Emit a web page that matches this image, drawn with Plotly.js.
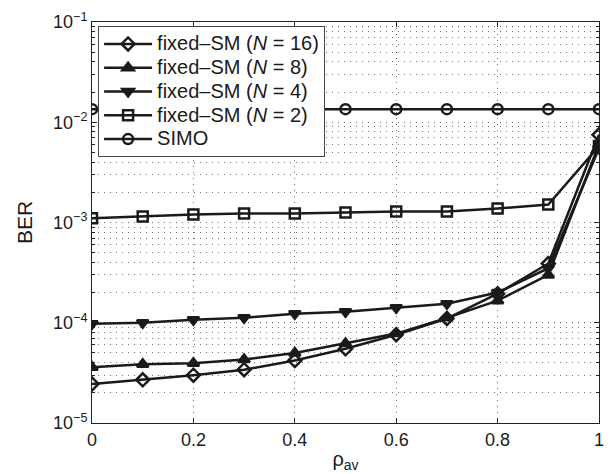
<!DOCTYPE html>
<html>
<head>
<meta charset="utf-8">
<script src="https://cdn.plot.ly/plotly-3.0.1.min.js"></script>
<style>html,body{margin:0;padding:0;background:#fff;}#plot{width:611px;height:474px;}</style>
</head>
<body>
<div id="plot"></div>
<script>
const rho = [0, 0.1, 0.2, 0.3, 0.4, 0.5, 0.6, 0.7, 0.8, 0.9, 1.0];
const berN16 = [2.45e-5, 2.7e-5, 3.0e-5, 3.4e-5, 4.2e-5, 5.5e-5, 7.6e-5, 1.1e-4, 1.95e-4, 3.9e-4, 7.5e-3];
const berN8  = [3.6e-5, 3.85e-5, 3.95e-5, 4.3e-5, 5.0e-5, 6.2e-5, 7.8e-5, 1.12e-4, 1.66e-4, 3.0e-4, 6.0e-3];
const berN4  = [9.8e-5, 1.0e-4, 1.07e-4, 1.12e-4, 1.23e-4, 1.29e-4, 1.41e-4, 1.55e-4, 2.0e-4, 3.5e-4, 5.5e-3];
const berN2  = [1.1e-3, 1.15e-3, 1.2e-3, 1.23e-3, 1.23e-3, 1.26e-3, 1.29e-3, 1.29e-3, 1.38e-3, 1.51e-3, 5.8e-3];
const berSIMO = [1.35e-2, 1.35e-2, 1.35e-2, 1.35e-2, 1.35e-2, 1.35e-2, 1.35e-2, 1.35e-2, 1.35e-2, 1.35e-2, 1.35e-2];
const names = ['fixed–SM (<i>N</i> = 16)', 'fixed–SM (<i>N</i> = 8)', 'fixed–SM (<i>N</i> = 4)', 'fixed–SM (<i>N</i> = 2)', 'SIMO'];
const yTickVals = [1e-5, 1e-4, 1e-3, 1e-2, 1e-1];
const yTickText = ['10<sup>−5</sup>', '10<sup>−4</sup>', '10<sup>−3</sup>', '10<sup>−2</sup>', '10<sup>−1</sup>'];
const yMinorVals = [
  2e-5, 3e-5, 4e-5, 5e-5, 6e-5, 7e-5, 8e-5, 9e-5,
  2e-4, 3e-4, 4e-4, 5e-4, 6e-4, 7e-4, 8e-4, 9e-4,
  2e-3, 3e-3, 4e-3, 5e-3, 6e-3, 7e-3, 8e-3, 9e-3,
  2e-2, 3e-2, 4e-2, 5e-2, 6e-2, 7e-2, 8e-2, 9e-2
];
const xTickVals = [0, 0.2, 0.4, 0.6, 0.8, 1];
const xTickText = ['0', '0.2', '0.4', '0.6', '0.8', '1'];

const black = '#1a1a1a';
function tr(y, name, sym) {
  return {
    x: rho, y: y, name: '<span style="font-size:20px">' + name + '</span>',
    type: 'scatter', mode: 'lines+markers',
    line: {color: black, width: 2.5},
    marker: {symbol: sym, size: 10, color: black, line: {color: black, width: 2.5}}
  };
}
const data = [
  tr(berN16, names[0], 'diamond-open'),
  tr(berN8, names[1], 'triangle-up'),
  tr(berN4, names[2], 'triangle-down'),
  tr(berN2, names[3], 'square-open'),
  tr(berSIMO, names[4], 'circle-open')
];
const gridc = '#707070';
const layout = {
  width: 611, height: 474,
  margin: {l: 92, r: 12, t: 22, b: 51},
  paper_bgcolor: '#fff', plot_bgcolor: '#fff',
  font: {family: 'Liberation Sans, Arial, sans-serif', size: 18, color: '#1a1a1a'},
  showlegend: true,
  legend: {x: 0.012, y: 0.99, xanchor: 'left', yanchor: 'top',
    bgcolor: '#fff', bordercolor: '#444', borderwidth: 1,
    font: {size: 16, color: '#1a1a1a'}, itemwidth: 48, tracegroupgap: 0},
  xaxis: {
    range: [0, 1], tickmode: 'array', tickvals: xTickVals, ticktext: xTickText,
    ticks: 'inside', ticklen: 5, tickcolor: '#222', mirror: 'ticks',
    showline: true, linecolor: '#222', linewidth: 1,
    showgrid: true, gridcolor: gridc, griddash: '1px,5px', gridwidth: 1,
    zeroline: false,
    title: {text: 'ρ<sub>av</sub>', standoff: 3, font: {size: 20}}
  },
  yaxis: {
    type: 'log', range: [-5, -1], tickmode: 'array', tickvals: yTickVals, ticktext: yTickText,
    ticks: 'inside', ticklen: 5, tickcolor: '#222', mirror: 'ticks',
    showline: true, linecolor: '#222', linewidth: 1,
    showgrid: true, gridcolor: gridc, griddash: '1px,5px', gridwidth: 1,
    zeroline: false,
    minor: {tickmode: 'array', tickvals: yMinorVals, ticks: 'inside', ticklen: 3, tickcolor: '#222',
      showgrid: true, gridcolor: gridc, griddash: '1px,5px', gridwidth: 1},
    title: {text: 'BER', standoff: 14, font: {size: 21}}
  }
};
Plotly.newPlot('plot', data, layout, {displayModeBar: false, staticPlot: true});
</script>
</body>
</html>
